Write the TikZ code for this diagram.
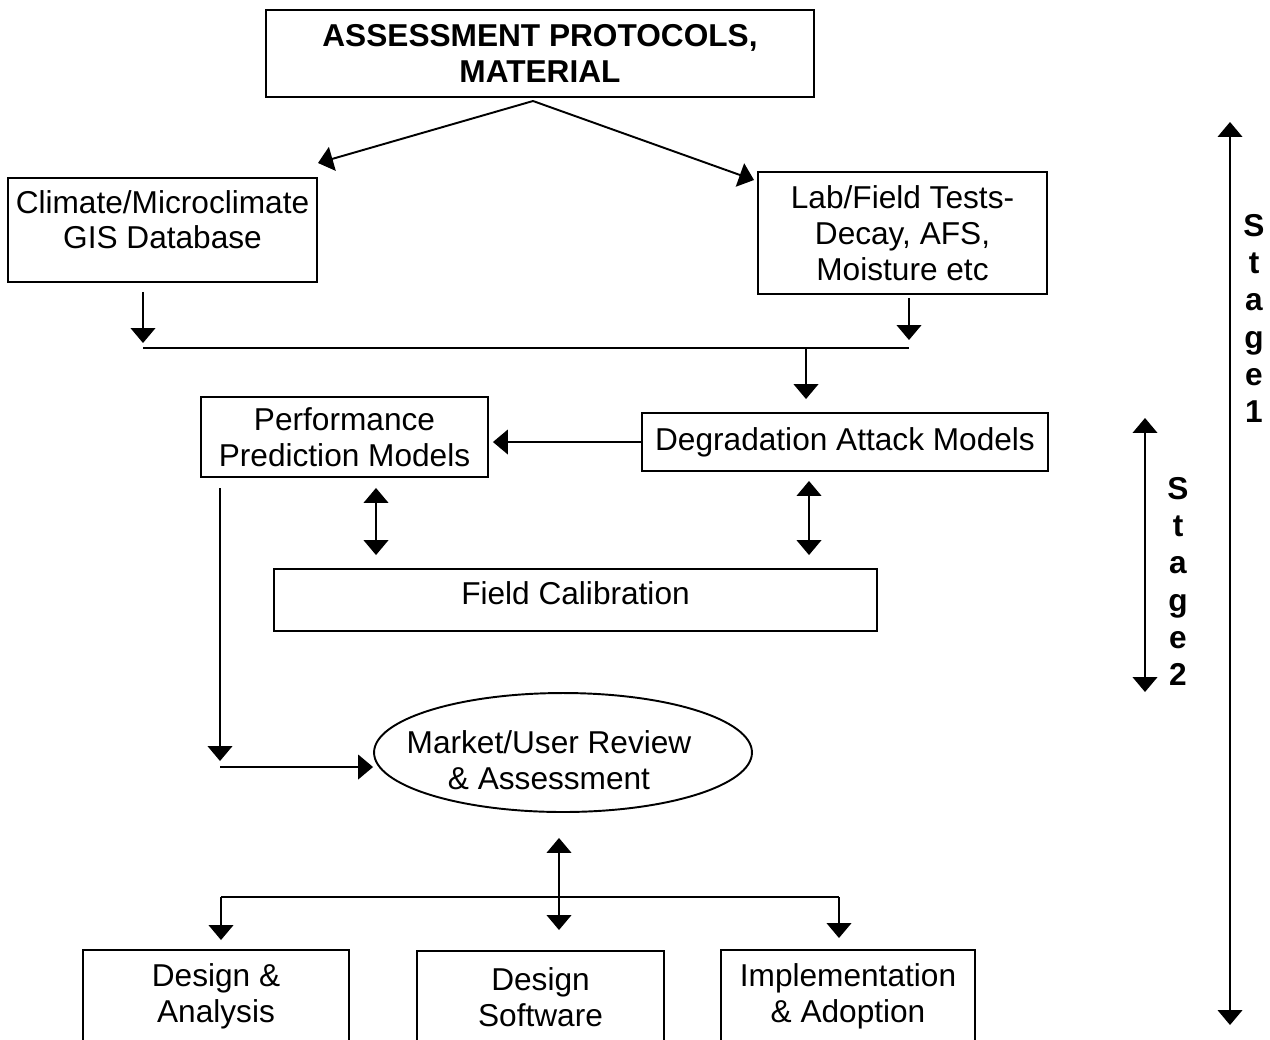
\documentclass[tikz,border=0pt]{standalone}
\usepackage{fontspec}
\setmainfont{Liberation Sans}
\usetikzlibrary{arrows.meta,shapes.geometric}

\begin{document}
\begin{tikzpicture}[x=0.02cm,y=-0.02cm,
    every node/.style={font=\fontsize{18}{20.4}\selectfont, align=center, inner sep=0pt},
    box/.style={draw, line width=1.1pt},
    wire/.style={line width=1.1pt},
    arr/.style={line width=1.1pt, -{Triangle[width=14pt,length=8.5pt]}},
    dbl/.style={line width=1.1pt, {Triangle[width=14pt,length=8.5pt]}-{Triangle[width=14pt,length=8.5pt]}},
    stage/.style={font=\fontsize{18}{21.2}\selectfont\bfseries}]
                \useasboundingbox (0,0) rectangle (1270,1039);
                \node[box, font=\fontsize{18}{21}\selectfont\bfseries, minimum width=10.96cm, minimum height=1.74cm] (top) at (540,53.5) {ASSESSMENT PROTOCOLS,\\MATERIAL};
                \node[box, minimum width=6.18cm, minimum height=2.08cm] (clim) at (162.5,230) {Climate/Microclimate\\GIS Database\\[-8.5pt]\mbox{}};
                \node[box, minimum width=5.78cm, minimum height=2.44cm] (lab) at (902.5,233) {Lab/Field Tests-\\Decay, AFS,\\Moisture etc};
                \node[box, minimum width=5.74cm, minimum height=1.6cm] (perf) at (344.5,437) {Performance\\Prediction Models};
                \node[box, minimum width=8.12cm, minimum height=1.16cm] (degr) at (845,442) {Degradation Attack Models};
                \node[box, minimum width=12.06cm, minimum height=1.24cm] (field) at (575.5,600) {Field Calibration\\[-12.5pt]\mbox{}};
                \node[box, ellipse, minimum width=7.56cm, minimum height=2.38cm] (market) at (563,752.5) {\mbox{}\\[1.7pt]\kern-0.56cm Market/User Review\\\kern-0.56cm\& Assessment};
                \node[box, anchor=north, minimum width=5.32cm, minimum height=1.84cm] (des) at (216,949) {Design \&\\Analysis};
                \node[box, anchor=north, minimum width=4.94cm, minimum height=1.84cm] (soft) at (540.5,950) {Design\\Software};
                \node[box, anchor=north, minimum width=5.08cm, minimum height=1.84cm] (impl) at (848,949) {Implementation\\\& Adoption};
                \node[stage] (st1) at (1254,318.5) {S\\t\\a\\g\\e\\1};
                \node[stage] (st2) at (1178,581.5) {S\\t\\a\\g\\e\\2};
                \coordinate (fork) at (533,101);
                \coordinate (tipl) at (318,163);
                \coordinate (tipr) at (754,180);
                \coordinate (jl) at (143,348);
                \coordinate (jr) at (909,348);
                \coordinate (jm) at (806,348);
                \coordinate (pl) at (220,488);
                \coordinate (pc) at (220,767);
                \coordinate (bl) at (221,897);
                \coordinate (br) at (839,897);
                \coordinate (bt) at (559,930);
                \draw[arr] (fork) -- (tipl);
                \draw[arr] (fork) -- (tipr);
                \draw[arr, shorten <=0.18cm, shorten >=0.1cm] (clim.south -| jl) -- (jl);
                \draw[arr, shorten <=0.06cm, shorten >=0.16cm] (lab.south -| jr) -- (jr);
                \draw[wire] (jl) -- (jr);
                \draw[arr, shorten >=0.26cm] (jm) -- (degr.north -| jm);
                \draw[arr, shorten >=0.08cm] (degr.west) -- (degr.west -| perf.east);
                \draw[dbl, shorten <=0.2cm, shorten >=0.26cm] (perf.south -| 376,0) -- (field.north -| 376,0);
                \draw[dbl, shorten <=0.18cm, shorten >=0.26cm] (degr.south -| 809,0) -- (field.north -| 809,0);
                \draw[arr, shorten >=0.12cm] (pl) -- (pc);
                \draw[arr] (pc) -- (pc -| market.west);
                \draw[dbl, shorten <=0.5cm] (market.south -| bt) -- (bt);
                \draw[wire] (bl) -- (br);
                \draw[arr, shorten >=0.18cm] (bl) -- (des.north -| bl);
                \draw[arr, shorten >=0.22cm] (br) -- (impl.north -| br);
                \draw[dbl] (1230,122) -- (1230,1025);
                \draw[dbl] (1145,418) -- (1145,692);
            \end{tikzpicture}
\end{document}
